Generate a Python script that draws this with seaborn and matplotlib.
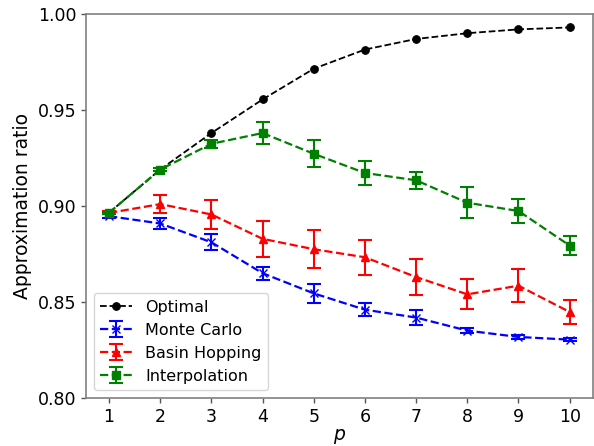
import matplotlib
matplotlib.use("Agg")
import matplotlib.pyplot as plt
import seaborn as sns
import pandas as pd
import numpy as np

p = [1, 2, 3, 4, 5, 6, 7, 8, 9, 10]
optimal = [0.8965, 0.919, 0.938, 0.9555, 0.9715, 0.9815, 0.987, 0.990, 0.992, 0.993]
monte_carlo = [0.8947, 0.8909, 0.8811, 0.8650, 0.8545, 0.8460, 0.8419, 0.8351, 0.8318, 0.8304]
monte_carlo_err = [0.0010, 0.0031, 0.0042, 0.0034, 0.0048, 0.0035, 0.0041, 0.0012, 0.0010, 0.0008]
basin_hopping = [0.8964, 0.9010, 0.8956, 0.8829, 0.8775, 0.8733, 0.8630, 0.8540, 0.8585, 0.8448]
basin_hopping_err = [0.0008, 0.0045, 0.0075, 0.0092, 0.0100, 0.0091, 0.0094, 0.0079, 0.0086, 0.0060]
interpolation = [0.8965, 0.9190, 0.9324, 0.9380, 0.9272, 0.9172, 0.9134, 0.9017, 0.8974, 0.8794]
interpolation_err = [0.0005, 0.0008, 0.0020, 0.0057, 0.0070, 0.0064, 0.0045, 0.0080, 0.0063, 0.0050]

sns.set_style("ticks")
plt.rcParams['font.family'] = ['DejaVu Sans']
plt.rcParams['text.color'] = 'black'
plt.rcParams['axes.labelcolor'] = 'black'
plt.rcParams['xtick.color'] = 'black'
plt.rcParams['ytick.color'] = 'black'

fig = plt.figure(figsize=(5.94, 4.46), dpi=100)
ax = fig.add_axes([0.1448, 0.1076, 0.853, 0.861])

df = pd.DataFrame({"p": p, "ratio": optimal})
sns.lineplot(data=df, x="p", y="ratio", ax=ax, color="black", linestyle="--",
             marker="o", markersize=5.5, markeredgecolor="black", linewidth=1.3,
             label="Optimal")

series = [
    ("Monte Carlo", monte_carlo, monte_carlo_err, "blue", "x"),
    ("Basin Hopping", basin_hopping, basin_hopping_err, "red", "^"),
    ("Interpolation", interpolation, interpolation_err, "green", "s"),
]
for name, vals, errs, col, mk in series:
    ax.errorbar(p, vals, yerr=errs, color=col, linestyle="--", marker=mk,
                markersize=5.5, linewidth=1.6, capsize=5, elinewidth=1.5,
                capthick=1.5, label=name)

ax.set_xlim(0.55, 10.45)
ax.set_ylim(0.80, 1.0)
ax.set_xticks(p)
ax.set_yticks([0.80, 0.85, 0.90, 0.95, 1.00])
ax.set_yticklabels(["0.80", "0.85", "0.90", "0.95", "1.00"])
ax.tick_params(labelsize=12.5, colors="black", length=3.5, width=1)
ax.tick_params(axis="both", color="#555555")
ax.set_xlabel("$p$", fontsize=13.5, labelpad=1)
ax.set_ylabel("Approximation ratio", fontsize=13.5)
for s in ax.spines.values():
    s.set_color("#808080")
    s.set_linewidth(1.2)

ax.legend(loc="lower left", fontsize=11.5, frameon=True)

fig.savefig("out.png", dpi=100)
